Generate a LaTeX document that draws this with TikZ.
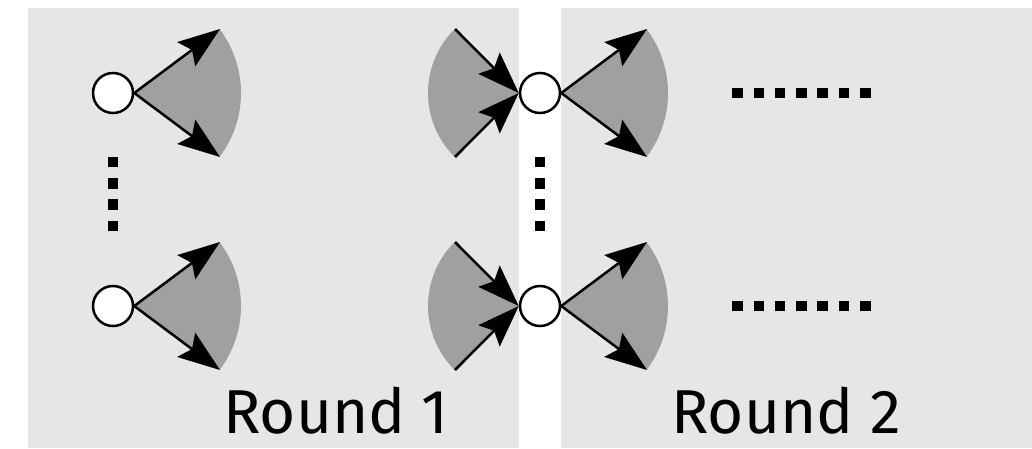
\documentclass[tikz,border=0pt]{standalone}
\usepackage{fontspec}
\setmainfont{Fira Sans}
\usetikzlibrary{arrows.meta}
\definecolor{panelgray}{HTML}{E6E6E6}
\definecolor{sectorgray}{HTML}{A0A0A0}
\tikzset{
  x=1pt,y=-1pt,
  panel/.style={fill=panelgray,draw=none},
  vtx/.style={circle,draw=black,fill=white,line width=2.5pt,minimum size=40pt,inner sep=0pt},
  sector/.style={fill=sectorgray,draw=none},
  edge/.style={line width=2.5pt,-{Stealth[length=42pt,width=30pt,inset=7pt]}},
  dotsq/.style={fill=black,minimum size=10.5pt,inner sep=0pt,draw=none,rectangle},
  lbl/.style={font=\fontsize{62}{70}\selectfont,anchor=base,inner sep=0pt}
}
\begin{document}
\begin{tikzpicture}
\useasboundingbox (0,0) rectangle (1032,448);
\fill[white] (0,0) rectangle (1032,448);
\fill[panel] (28,8) rectangle (519,448);
\fill[panel] (561,8) rectangle (1032,448);
% sectors
\foreach \cy in {93,306}{
  \fill[sector] (135,\cy) -- ++(-37:106) arc[start angle=-37,end angle=37,radius=106] -- cycle;
  \fill[sector] (562,\cy) -- ++(-37:106) arc[start angle=-37,end angle=37,radius=106] -- cycle;
  \fill[sector] (518,\cy) -- ++(135:90) arc[start angle=135,end angle=225,radius=90] -- cycle;
}
% vertices
\node[vtx] (a1) at (113,93) {};
\node[vtx] (a2) at (113,306) {};
\node[vtx] (b1) at (540,93) {};
\node[vtx] (b2) at (540,306) {};
% arrow end points
\coordinate (a1u) at (220,29);  \coordinate (a1d) at (220,157);
\coordinate (a2u) at (220,242); \coordinate (a2d) at (220,370);
\coordinate (b1u) at (647,29);  \coordinate (b1d) at (647,157);
\coordinate (b2u) at (647,242); \coordinate (b2d) at (647,370);
\coordinate (i1u) at (455,29);  \coordinate (i1d) at (455,157);
\coordinate (i2u) at (455,242); \coordinate (i2d) at (455,370);
\draw[edge] (a1.east) -- (a1u);
\draw[edge] (a1.east) -- (a1d);
\draw[edge] (a2.east) -- (a2u);
\draw[edge] (a2.east) -- (a2d);
\draw[edge] (b1.east) -- (b1u);
\draw[edge] (b1.east) -- (b1d);
\draw[edge] (b2.east) -- (b2u);
\draw[edge] (b2.east) -- (b2d);
\draw[edge] (i1u) -- (b1.west);
\draw[edge] (i1d) -- (b1.west);
\draw[edge] (i2u) -- (b2.west);
\draw[edge] (i2d) -- (b2.west);
% dots
\foreach \k in {0,...,3}{
  \node[dotsq] at (113,162+21.3*\k) {};
  \node[dotsq] at (540,162+21.3*\k) {};
}
\foreach \k in {0,...,6}{
  \node[dotsq] at (737.5+21.3*\k,93) {};
  \node[dotsq] at (737.5+21.3*\k,306) {};
}
% labels
\node[lbl] (r1) at (336,433) {Round 1};
\node[lbl] (r2) at (786,433) {Round 2};
\end{tikzpicture}
\end{document}
